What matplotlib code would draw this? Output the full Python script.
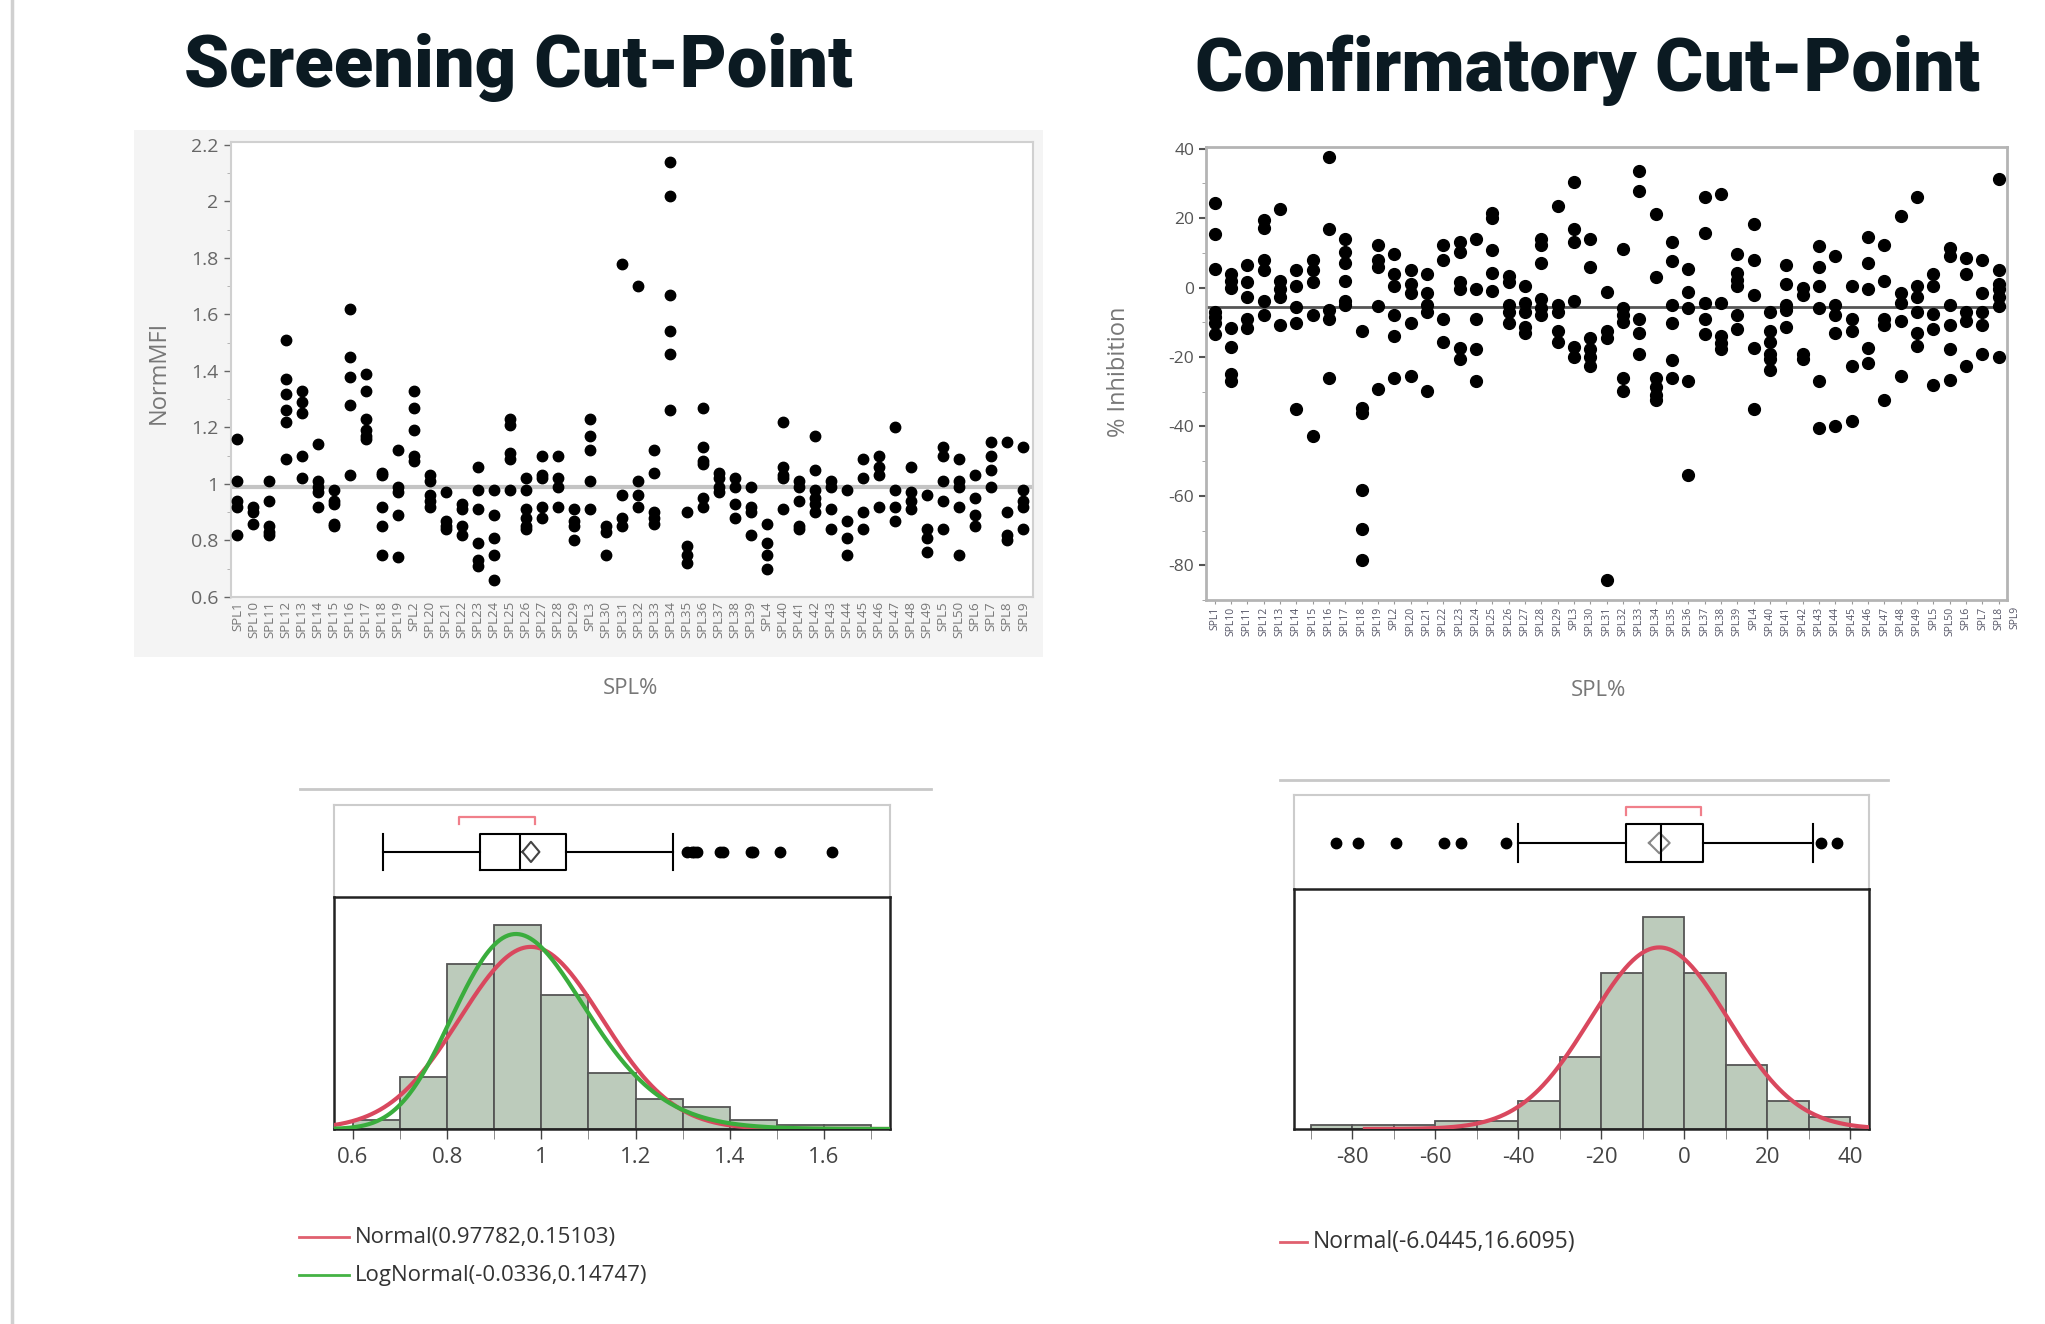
import numpy as np
import matplotlib
matplotlib.use('Agg')
import matplotlib.pyplot as plt
from matplotlib.lines import Line2D
from matplotlib.patches import Rectangle
from matplotlib.ticker import MultipleLocator

plt.rcParams['font.family'] = ['Open Sans', 'DejaVu Sans']

# ---- data ----
spl_labels = ['SPL1', 'SPL10', 'SPL11', 'SPL12', 'SPL13', 'SPL14', 'SPL15', 'SPL16', 'SPL17',
              'SPL18', 'SPL19', 'SPL2', 'SPL20', 'SPL21', 'SPL22', 'SPL23', 'SPL24', 'SPL25',
              'SPL26', 'SPL27', 'SPL28', 'SPL29', 'SPL3', 'SPL30', 'SPL31', 'SPL32', 'SPL33',
              'SPL34', 'SPL35', 'SPL36', 'SPL37', 'SPL38', 'SPL39', 'SPL4', 'SPL40', 'SPL41',
              'SPL42', 'SPL43', 'SPL44', 'SPL45', 'SPL46', 'SPL47', 'SPL48', 'SPL49', 'SPL5',
              'SPL50', 'SPL6', 'SPL7', 'SPL8', 'SPL9']

norm_mfi = [
    [1.16, 1.01, 0.94, 0.92, 0.82], [0.92, 0.90, 0.86], [1.01, 0.94, 0.85, 0.83, 0.82],
    [1.51, 1.37, 1.32, 1.26, 1.22, 1.09], [1.33, 1.29, 1.25, 1.10, 1.02],
    [1.14, 1.01, 0.99, 0.97, 0.92], [0.98, 0.94, 0.93, 0.86, 0.85],
    [1.62, 1.45, 1.38, 1.28, 1.03], [1.39, 1.33, 1.23, 1.19, 1.17, 1.16],
    [1.04, 1.03, 0.92, 0.85, 0.75], [1.12, 0.99, 0.97, 0.89, 0.74],
    [1.33, 1.27, 1.19, 1.10, 1.08], [1.03, 1.01, 0.96, 0.94, 0.92],
    [0.97, 0.87, 0.85, 0.84], [0.93, 0.91, 0.85, 0.82],
    [1.06, 0.98, 0.91, 0.79, 0.73, 0.71], [0.98, 0.89, 0.81, 0.75, 0.66],
    [1.23, 1.21, 1.11, 1.09, 0.98], [1.02, 0.98, 0.91, 0.88, 0.85, 0.84],
    [1.10, 1.03, 1.02, 0.92, 0.88], [1.10, 1.02, 0.99, 0.92],
    [0.91, 0.87, 0.85, 0.80], [1.23, 1.17, 1.12, 1.01, 0.91], [0.85, 0.83, 0.75],
    [1.78, 0.96, 0.88, 0.85], [1.70, 1.01, 0.96, 0.92], [1.12, 1.04, 0.90, 0.88, 0.86],
    [2.14, 2.02, 1.67, 1.54, 1.46, 1.26], [0.90, 0.78, 0.75, 0.72],
    [1.27, 1.13, 1.08, 1.07, 0.95, 0.92], [1.04, 1.02, 0.99, 0.97],
    [1.02, 0.99, 0.93, 0.88], [0.99, 0.92, 0.90, 0.82], [0.86, 0.79, 0.75, 0.70],
    [1.22, 1.06, 1.03, 1.02, 0.91], [1.01, 0.99, 0.94, 0.85, 0.84],
    [1.17, 1.05, 0.98, 0.95, 0.93, 0.90], [1.01, 0.99, 0.91, 0.84],
    [0.98, 0.87, 0.81, 0.75], [1.09, 1.02, 0.90, 0.84], [1.10, 1.06, 1.03, 0.92],
    [1.20, 0.98, 0.92, 0.87], [1.06, 0.97, 0.94, 0.91], [0.96, 0.84, 0.81, 0.76],
    [1.13, 1.10, 1.01, 0.94, 0.84], [1.09, 1.01, 0.99, 0.92, 0.75],
    [1.03, 0.95, 0.89, 0.85], [1.15, 1.10, 1.05, 0.99], [1.15, 0.90, 0.82, 0.80],
    [1.13, 0.98, 0.94, 0.92, 0.84],
]
norm_mfi_ref = 0.988

inhibition = [
    [24.5, 15.5, 5.4, -7, -8.6, -10.3, -13.3], [4, 2, 0, -11.5, -17, -25, -27],
    [6.5, 1.5, -2.7, -9, -11.5], [19.5, 17.3, 8, 5, -4, -8], [22.7, 2, -0.5, -2.7, -10.8],
    [5, 0.5, -5.5, -10.3, -35], [8, 5, 1.5, -8, -42.7], [37.5, 17, -6.5, -9, -26],
    [14, 10.3, 7, 2, -4, -5], [-12.4, -34.6, -36.2, -58.4, -69.5, -78.4],
    [12.4, 8, 6, -5.4, -29.2], [9.7, 3.8, 0.5, -8, -14, -26], [5, 1, -1.6, -10.3, -25.4],
    [3.8, -1.6, -5, -7, -29.7], [12.4, 8, -9, -15.7], [13, 10.3, 1.5, -0.5, -17.3, -20.5],
    [14, -0.5, -9, -17.8, -27], [21.6, 20, 10.8, 4.3, -1.1], [3.2, 1.6, -5, -7, -10.3],
    [0.5, -4.3, -7, -11.4, -13], [14, 12.4, 7, -3.2, -6, -8], [23.5, -5, -7, -12.4, -15.7],
    [30.3, 16.8, 13, -3.8, -17, -20], [14, 6, -14.6, -17.8, -20, -22.7],
    [-1.4, -12.4, -14.6, -84.3], [11, -6, -8, -10, -26, -29.7], [33.5, 27.8, -9, -13, -19],
    [21.3, 3, -26, -28.6, -30.8, -32.4], [13, 7.6, -5, -10.3, -21, -26],
    [5.4, -1.4, -6, -27, -54], [26, 15.7, -4.3, -9, -13.5], [27, -4.3, -14, -16, -17.8],
    [9.7, 4.3, 2.2, 0.5, -8, -12], [18.4, 8, -2.2, -17.3, -35],
    [-7, -12.4, -15.7, -19, -20.5, -23.8], [6.5, 1, -5, -6.5, -11.4], [0, -2.2, -19, -20.5],
    [12, 6, 0.5, -6, -27, -40.5], [9.2, -5, -8, -13, -40], [0.5, -9, -12.4, -22.7, -38.4],
    [14.6, 7, -0.5, -17.3, -21.6], [12.4, 2, -9, -10.8, -32.4], [20.5, -1.6, -4.3, -9.7, -25.4],
    [26, 0.5, -2.7, -7, -13, -16.8], [3.8, 0.5, -7.6, -12, -28],
    [11.4, 9.2, -5, -10.8, -17.8, -26.5], [8.6, 3.8, -7, -9.7, -22.7],
    [8, -1.6, -7, -10.8, -19], [31.4, 5, 1, -0.5, -2.7, -5.4, -20],
]
inhibition_ref = -5.5

# screening distribution
scr_edges = [0.6, 0.7, 0.8, 0.9, 1.0, 1.1, 1.2, 1.3, 1.4, 1.5, 1.6, 1.7]
scr_counts = [2, 12, 38, 47, 31, 13, 7, 5, 2, 1, 1]
scr_box = dict(whislo=0.665, q1=0.870, med=0.954, q3=1.052, whishi=1.279,
               fliers=[1.31, 1.32, 1.325, 1.33, 1.38, 1.385, 1.445, 1.45, 1.506, 1.617])
scr_mean, scr_ci = 0.978, 0.018
scr_short = (0.826, 0.987)
scr_normal = (0.97782, 0.15103)
scr_lognormal = (-0.0336, 0.14747)

# confirmatory distribution
conf_edges = [-90, -80, -70, -60, -50, -40, -30, -20, -10, 0, 10, 20, 30, 40]
conf_counts = [1, 1, 1, 2, 2, 7, 18, 39, 53, 39, 16, 7, 3]
conf_box = dict(whislo=-40.1, q1=-14.1, med=-5.7, q3=4.6, whishi=31.0,
                fliers=[-83.9, -78.7, -69.4, -58.0, -53.9, -43.0, 32.9, 36.8])
conf_mean, conf_ci = -6.04, 2.5
conf_short = (-14.1, 4.1)
conf_normal = (-6.0445, 16.6095)

W, H = 2045, 1324


def fx(px):
    return px / W


def fy(py):
    return 1 - py / H


def box_ax(x0, y0, x1, y1):
    return [fx(x0), fy(y1), (x1 - x0) / W, (y1 - y0) / H]


def normal_pdf(x, m, s):
    return np.exp(-0.5 * ((x - m) / s) ** 2) / (s * np.sqrt(2 * np.pi))


def lognormal_pdf(x, m, s):
    return np.exp(-0.5 * ((np.log(x) - m) / s) ** 2) / (x * s * np.sqrt(2 * np.pi))


fig = plt.figure(figsize=(W / 100, H / 100), dpi=100)
fig.patch.set_facecolor('white')

# left border line of the slide
fig.add_artist(Line2D([fx(12), fx(12)], [0, 1], color='#d0d0d0', lw=2.5))

# titles
title_kw = dict(family=['Roboto', 'DejaVu Sans'], weight='black', color='#0b1a22',
                ha='center', va='baseline')
fig.text(fx(518), fy(87), 'Screening Cut-Point', fontsize=52, **title_kw)
fig.text(fx(1588), fy(91), 'Confirmatory Cut-Point', fontsize=53, **title_kw)

# light grey panel behind the screening scatter
fig.add_artist(Rectangle((fx(134), fy(657)), 909 / W, 527 / H, transform=fig.transFigure,
                         facecolor='#f4f4f4', edgecolor='none', zorder=0))

# ---- screening scatter ----
ax1 = fig.add_axes(box_ax(231, 142, 1033, 597))
xs, ys = [], []
for i, vals in enumerate(norm_mfi):
    xs += [i] * len(vals)
    ys += vals
ax1.axhline(norm_mfi_ref, color='#c4c4c4', lw=3, zorder=1)
ax1.plot(xs, ys, 'o', color='black', markersize=7.5, zorder=3)
ax1.set_xlim(-0.4, 49.6)
ax1.set_ylim(0.6, 2.21)
ax1.set_yticks([0.6, 0.8, 1.0, 1.2, 1.4, 1.6, 1.8, 2.0, 2.2])
ax1.set_yticklabels(['0.6', '0.8', '1', '1.2', '1.4', '1.6', '1.8', '2', '2.2'])
ax1.yaxis.set_minor_locator(MultipleLocator(0.1))
ax1.set_xticks(range(len(spl_labels)))
ax1.set_xticklabels(spl_labels, rotation=90, fontsize=9.5, color='#777777')
ax1.tick_params(axis='y', labelsize=14, colors='#666666', length=5, width=1, pad=4)
ax1.tick_params(axis='y', which='minor', length=3, color='#aaaaaa')
ax1.tick_params(axis='x', length=0, pad=3)
for sp in ax1.spines.values():
    sp.set_color('#d0d0d0')
    sp.set_linewidth(1.5)
ax1.set_facecolor('white')
fig.text(fx(159), fy(372), 'NormMFI', rotation=90, ha='center', va='center',
         fontsize=17, color='#777777')
fig.text(fx(630), fy(689), 'SPL%', ha='center', va='center', fontsize=16, color='#777777')

# ---- confirmatory scatter ----
ax2 = fig.add_axes(box_ax(1206, 147, 2007, 600))
xs, ys = [], []
for i, vals in enumerate(inhibition):
    xs += [i] * len(vals)
    ys += vals
ax2.axhline(inhibition_ref, color='#555555', lw=2, zorder=1)
ax2.plot(xs, ys, 'o', color='black', markersize=8.5, zorder=3)
ax2.set_xlim(-0.53, 48.5)
ax2.set_ylim(-90, 40.5)
ax2.set_yticks([-80, -60, -40, -20, 0, 20, 40])
ax2.set_yticklabels(['-80', '-60', '-40', '-20', '0', '20', '40'])
ax2.yaxis.set_minor_locator(MultipleLocator(10))
ax2.set_xticks(range(len(inhibition)))
ax2.set_xticklabels(spl_labels[:len(inhibition)], rotation=90, fontsize=7.5, color='#555566')
for lab in spl_labels[len(inhibition):]:
    ax2.text(spl_labels.index(lab), -0.012, lab, transform=ax2.get_xaxis_transform(),
             rotation=90, ha='center', va='top', fontsize=7.5, color='#555566')
ax2.tick_params(axis='y', labelsize=12.5, colors='#555555', length=5, width=1.5)
ax2.tick_params(axis='y', which='minor', length=3, color='#999999')
ax2.tick_params(axis='x', length=3, pad=2, color='#999999')
for sp in ax2.spines.values():
    sp.set_color('#b4b4b4')
    sp.set_linewidth(2)
fig.text(fx(1119), fy(372), '% Inhibition', rotation=90, ha='center', va='center',
         fontsize=17, color='#777777')
fig.text(fx(1598), fy(691), 'SPL%', ha='center', va='center', fontsize=16, color='#777777')

# separators above the distribution panels
fig.add_artist(Line2D([fx(300), fx(931)], [fy(789), fy(789)], color='#c8c8c8', lw=2))
fig.add_artist(Line2D([fx(1280), fx(1888)], [fy(780), fy(780)], color='#c8c8c8', lw=2))


def draw_box(ax, stats, mean, ci, short, xlim, diamond_color):
    ax.bxp([stats], positions=[0.49], widths=0.40, capwidths=0.40, orientation='horizontal',
           manage_ticks=False, showfliers=True,
           boxprops=dict(color='black', lw=1.5), whiskerprops=dict(color='black', lw=1.5),
           capprops=dict(color='black', lw=1.5), medianprops=dict(color='black', lw=1.5),
           flierprops=dict(marker='o', markerfacecolor='black', markeredgecolor='black',
                           markersize=7.5))
    ax.plot([mean - ci, mean, mean + ci, mean, mean - ci], [0.49, 0.60, 0.49, 0.38, 0.49],
            color=diamond_color, lw=1.5)
    ax.plot([short[0], short[0], short[1], short[1]], [0.79, 0.87, 0.87, 0.79],
            color='#f07f8a', lw=1.6)
    ax.set_xlim(*xlim)
    ax.set_ylim(0, 1)
    ax.set_xticks([])
    ax.set_yticks([])
    for sp in ax.spines.values():
        sp.set_color('#cccccc')
        sp.set_linewidth(1.5)
    ax.spines['bottom'].set_visible(False)


def draw_hist(ax, edges, counts, xlim, ylim, major, labels, minor):
    edges = np.array(edges)
    ax.bar(edges[:-1], counts, width=np.diff(edges), align='edge', color='#bccbbb',
           edgecolor='#555555', linewidth=1.3, zorder=2)
    ax.set_xlim(*xlim)
    ax.set_ylim(*ylim)
    ax.set_yticks([])
    ax.set_xticks(major)
    ax.set_xticklabels(labels)
    ax.xaxis.set_minor_locator(MultipleLocator(minor))
    ax.tick_params(axis='x', labelsize=16, colors='#444444', length=7, width=1, pad=6)
    ax.tick_params(axis='x', which='minor', length=7, color='#777777')
    for sp in ax.spines.values():
        sp.set_color('#222222')
        sp.set_linewidth(1.8)


# ---- screening distribution ----
xl1 = (0.56, 1.74)
axb1 = fig.add_axes(box_ax(334, 805, 890, 897))
draw_box(axb1, scr_box, scr_mean, scr_ci, scr_short, xl1, '#444444')
axh1 = fig.add_axes(box_ax(334, 897, 890, 1129))
draw_hist(axh1, scr_edges, scr_counts, xl1, (0, 53.5), [0.6, 0.8, 1.0, 1.2, 1.4, 1.6],
          ['0.6', '0.8', '1', '1.2', '1.4', '1.6'], 0.1)
n1 = sum(scr_counts)
bw1 = scr_edges[1] - scr_edges[0]
gx = np.linspace(xl1[0], xl1[1], 400)
axh1.plot(gx, n1 * bw1 * normal_pdf(gx, *scr_normal), color='#d9485e', lw=3, zorder=3)
axh1.plot(gx, n1 * bw1 * lognormal_pdf(gx, *scr_lognormal), color='#3aad3d', lw=3, zorder=4)

fig.add_artist(Line2D([fx(299), fx(349)], [fy(1237), fy(1237)], color='#e0606f', lw=2))
fig.text(fx(355), fy(1237), 'Normal(0.97782,0.15103)', va='center', fontsize=16, color='#333333')
fig.add_artist(Line2D([fx(299), fx(349)], [fy(1275), fy(1275)], color='#44b244', lw=2))
fig.text(fx(355), fy(1275), 'LogNormal(-0.0336,0.14747)', va='center', fontsize=16,
         color='#333333')

# ---- confirmatory distribution ----
xl2 = (-94.1, 44.5)
axb2 = fig.add_axes(box_ax(1294, 795, 1869, 889))
draw_box(axb2, conf_box, conf_mean, conf_ci, conf_short, xl2, '#888888')
axh2 = fig.add_axes(box_ax(1294, 889, 1869, 1129))
draw_hist(axh2, conf_edges, conf_counts, xl2, (0, 60), [-80, -60, -40, -20, 0, 20, 40],
          ['-80', '-60', '-40', '-20', '0', '20', '40'], 10)
n2 = sum(conf_counts)
bw2 = conf_edges[1] - conf_edges[0]
gx2 = np.linspace(-77, xl2[1], 400)
axh2.plot(gx2, n2 * bw2 * normal_pdf(gx2, *conf_normal), color='#d9485e', lw=3, zorder=3)

fig.add_artist(Line2D([fx(1280), fx(1307)], [fy(1242), fy(1242)], color='#e0606f', lw=2))
fig.text(fx(1313), fy(1242), 'Normal(-6.0445,16.6095)', va='center', fontsize=16.5,
         color='#333333')

fig.savefig('out.png', dpi=100)
